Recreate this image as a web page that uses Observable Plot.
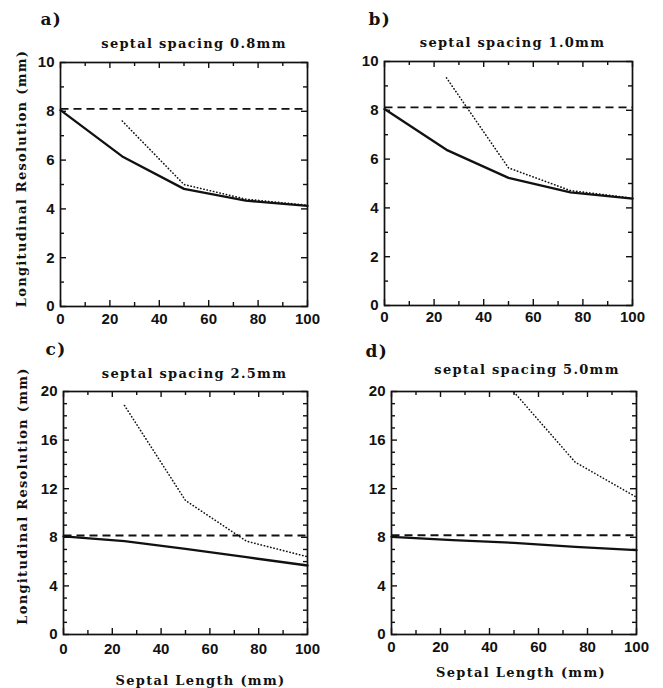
<!DOCTYPE html>
<html><head><meta charset="utf-8">
<script src="https://cdn.jsdelivr.net/npm/d3@7"></script>
<script src="https://cdn.jsdelivr.net/npm/@observablehq/plot@0.6"></script>
<style>
body{margin:0;background:#fff;}
#root{position:relative;width:663px;height:688px;overflow:hidden;background:#fff;}
#root > div{position:absolute;}
g[font-family="DejaVu Serif"] text{letter-spacing:1.3px;}
</style></head><body><div id="root"></div>
<script>
// ---- data ----
const septalLength = [0, 25, 50, 75, 100];
const panelLetters = ["a)", "b)", "c)", "d)"];
const panelTitles = ["septal spacing 0.8mm", "septal spacing 1.0mm", "septal spacing 2.5mm", "septal spacing 5.0mm"];
const yLabel = "Longitudinal Resolution (mm)";
const xLabel = "Septal Length (mm)";

const solidA  = [8.05, 6.15, 4.82, 4.34, 4.12];
const dottedA = [null, 7.6, 5.0, 4.4, 4.15];
const dashedA = [8.1, 8.1, 8.1, 8.1, 8.1];

const solidB  = [8.05, 6.38, 5.23, 4.64, 4.38];
const dottedB = [null, 9.33, 5.64, 4.71, 4.4];
const dashedB = [8.12, 8.12, 8.12, 8.12, 8.12];

const solidC  = [8.07, 7.68, 7.05, 6.36, 5.68];
const dottedC = [null, 18.85, 11.03, 7.68, 6.4];
const dashedC = [8.15, 8.15, 8.15, 8.15, 8.15];

const solidD  = [8.04, 7.76, 7.54, 7.22, 6.94];
const dottedD = [null, null, 19.95, 14.18, 11.3];
const dashedD = [8.17, 8.17, 8.17, 8.17, 8.17];

const xMajor = [0, 20, 40, 60, 80, 100];
const xMinor = [10, 30, 50, 70, 90];
const yMajorTop = [0, 2, 4, 6, 8, 10];
const yMinorTop = [1, 3, 5, 7, 9];
const yMajorBottom = [0, 4, 8, 12, 16, 20];
const yMinorBottom = [1, 2, 3, 5, 6, 7, 9, 10, 11, 13, 14, 15, 17, 18, 19];

// ---- layout ----
const INK = "#111";
const SERIF = "DejaVu Serif";
const SANS = "Liberation Sans, Arial, sans-serif";

const panels = [
  {left: 0,   top: 0,   w: 331, h: 330, ml: 60, mr: 24, mt: 62, mb: 24, domain: [0, 10],
   solid: solidA, dotted: dottedA, dashed: dashedA, yMajor: yMajorTop, yMinor: yMinorTop,
   letter: {dx: -20, dy: -43}, title: {dx: 10, dy: -19}, ylab: {dx: -39, dy: -6}, xlab: null, xpad: 7},
  {left: 331, top: 0,   w: 332, h: 330, ml: 53, mr: 31, mt: 61, mb: 25, domain: [0, 10],
   solid: solidB, dotted: dottedB, dashed: dashedB, yMajor: yMajorTop, yMinor: yMinorTop,
   letter: {dx: -16, dy: -42}, title: {dx: 4, dy: -19}, ylab: null, xlab: null, xpad: 6},
  {left: 0,   top: 330, w: 331, h: 358, ml: 63, mr: 24, mt: 61, mb: 54, domain: [0, 20],
   solid: solidC, dotted: dottedC, dashed: dashedC, yMajor: yMajorBottom, yMinor: yMinorBottom,
   letter: {dx: -18, dy: -42}, title: {dx: 9, dy: -18}, ylab: {dx: -41, dy: -17}, xlab: {dx: 15, dy: 46}, xpad: 9},
  {left: 331, top: 330, w: 332, h: 358, ml: 60, mr: 27, mt: 61, mb: 54, domain: [0, 20],
   solid: solidD, dotted: dottedD, dashed: dashedD, yMajor: yMajorBottom, yMinor: yMinorBottom,
   letter: {dx: -26, dy: -40}, title: {dx: 13, dy: -22}, ylab: null, xlab: {dx: 7, dy: 38}, xpad: 7}
];

const root = document.getElementById("root");

panels.forEach((p, i) => {
  const fw = p.w - p.ml - p.mr, fh = p.h - p.mt - p.mb;
  const rows = septalLength.map((x, k) => ({x, solid: p.solid[k], dotted: p.dotted[k], dashed: p.dashed[k]}));
  const id = d => d;
  const tickStyle = {stroke: INK, strokeWidth: 1.4};
  const txt = {text: id, fontFamily: SERIF, fontWeight: "bold", fill: INK, lineAnchor: "middle"};
  const marks = [
    Plot.line(rows, {x: "x", y: "dashed", stroke: INK, strokeWidth: 1.8, strokeDasharray: "8,5", strokeLinecap: "butt"}),
    Plot.line(rows, {x: "x", y: "dotted", stroke: INK, strokeWidth: 1.6, strokeDasharray: "0.3,3", strokeLinecap: "round"}),
    Plot.line(rows, {x: "x", y: "solid", stroke: INK, strokeWidth: 2.3}),
    // inward ticks on all four sides
    Plot.tickX(xMajor, {x: id, insetTop: fh - 6, ...tickStyle}),
    Plot.tickX(xMajor, {x: id, insetBottom: fh - 6, ...tickStyle}),
    Plot.tickX(xMinor, {x: id, insetTop: fh - 4, ...tickStyle}),
    Plot.tickX(xMinor, {x: id, insetBottom: fh - 4, ...tickStyle}),
    Plot.tickY(p.yMajor, {y: id, insetRight: fw - 6, ...tickStyle}),
    Plot.tickY(p.yMajor, {y: id, insetLeft: fw - 6, ...tickStyle}),
    Plot.tickY(p.yMinor, {y: id, insetRight: fw - 4, ...tickStyle}),
    Plot.tickY(p.yMinor, {y: id, insetLeft: fw - 4, ...tickStyle}),
    Plot.frame({stroke: INK, strokeWidth: 1.7}),
    Plot.axisX(xMajor, {tickSize: 0, tickPadding: p.xpad, fontSize: 15, fontWeight: "bold", label: null, tickFormat: id}),
    Plot.axisY(p.yMajor, {tickSize: 0, tickPadding: 6, fontSize: 15, fontWeight: "bold", label: null, tickFormat: id}),
    Plot.text([panelLetters[i]], {...txt, frameAnchor: "top-left", textAnchor: "start", dx: p.letter.dx, dy: p.letter.dy, fontSize: 17}),
    Plot.text([panelTitles[i]], {...txt, frameAnchor: "top", textAnchor: "middle", dx: p.title.dx, dy: p.title.dy, fontSize: 13})
  ];
  if (p.ylab) marks.push(Plot.text([yLabel], {...txt, frameAnchor: "left", textAnchor: "middle", rotate: -90,
      dx: p.ylab.dx, dy: p.ylab.dy, fontSize: 13}));
  if (p.xlab) marks.push(Plot.text([xLabel], {...txt, frameAnchor: "bottom", textAnchor: "middle",
      dx: p.xlab.dx, dy: p.xlab.dy, fontSize: 13}));

  const chart = Plot.plot({
    width: p.w, height: p.h,
    marginLeft: p.ml, marginRight: p.mr, marginTop: p.mt, marginBottom: p.mb,
    x: {domain: [0, 100]},
    y: {domain: p.domain},
    style: {fontFamily: SANS, color: INK, background: "transparent", overflow: "visible"},
    marks
  });
  const holder = document.createElement("div");
  holder.style.left = p.left + "px";
  holder.style.top = p.top + "px";
  holder.appendChild(chart);
  root.appendChild(holder);
});
</script>
</body></html>
